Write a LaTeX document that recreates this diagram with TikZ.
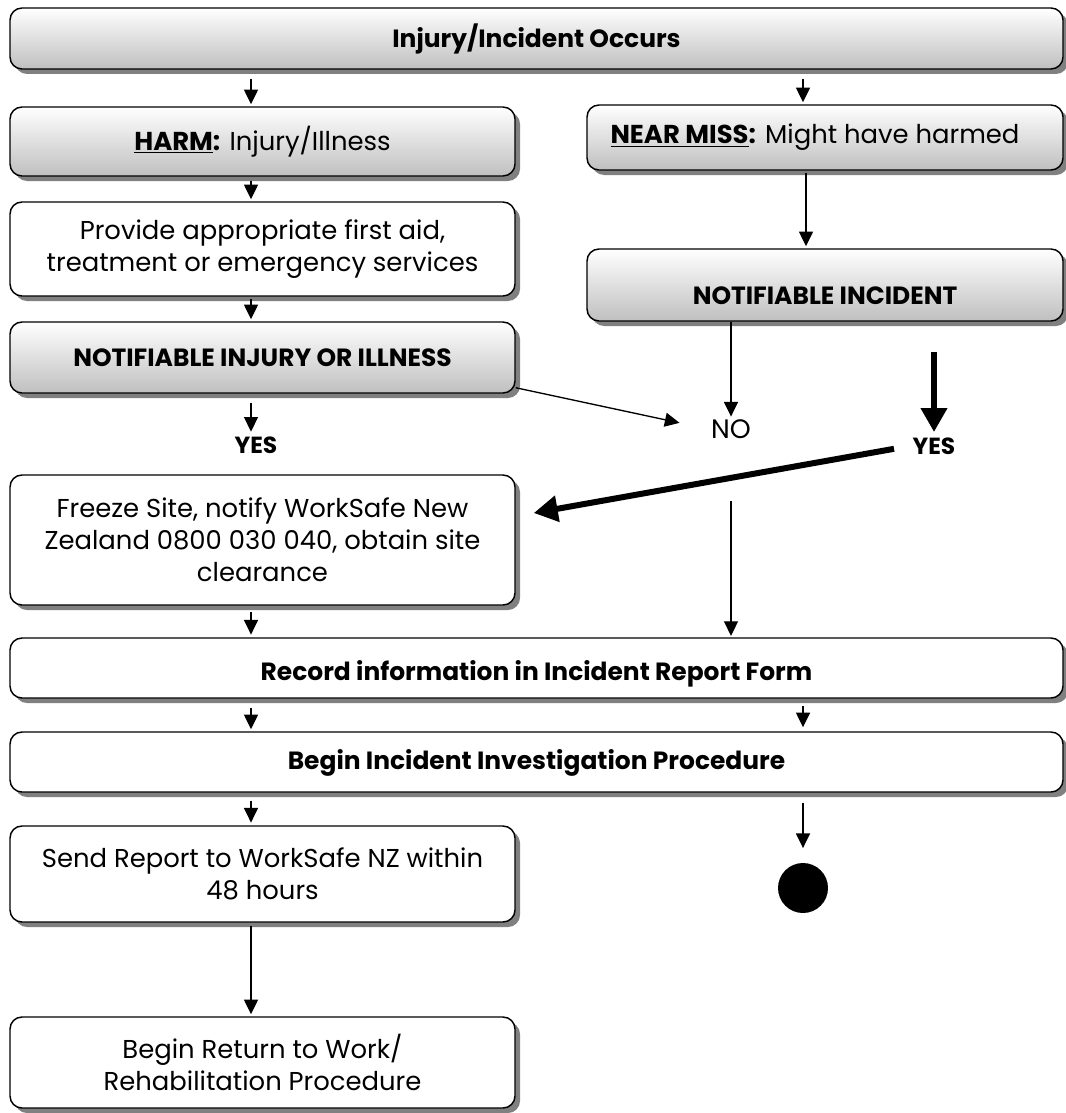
\documentclass[tikz,border=0pt]{standalone}
\usepackage{fontspec}
\setmainfont{Poppins}
\usetikzlibrary{arrows.meta,shadows,calc}
\newcommand{\regfont}{\fontsize{19.4}{24}\selectfont}
\newcommand{\boldfont}{\fontsize{18.7}{24}\selectfont\bfseries}
\tikzset{
  base/.style={draw=black, line width=1.1pt, rounded corners=9pt, align=center,
    font=\regfont, inner sep=0pt,
    drop shadow={shadow xshift=3.75pt, shadow yshift=-3.75pt, fill=black!50, opacity=1}},
  gbox/.style={base, top color=white, bottom color=black!25},
  wbox/.style={base, fill=white},
  arr/.style={line width=1pt, -{Triangle[length=11pt,width=10.5pt]}},
  bigarr/.style={line width=4.5pt, -{Triangle[length=18pt,width=19pt]}},
  lbl/.style={font=\regfont, inner sep=2pt},
}
\begin{document}
\begin{tikzpicture}[x=0.75pt,y=-0.75pt]
\useasboundingbox (0,0) rectangle (1065,1113);
% boxes
\node[gbox, font=\boldfont, minimum width=789.75pt, minimum height=45.75pt] (top) at (536.5,38.5) {Injury/Incident Occurs};
\node[gbox, minimum width=378.75pt, minimum height=51.75pt] (harm) at (262.5,141.5) {\underline{\bfseries HARM}\textbf{:} Injury/Illness};
\node[gbox, minimum width=357pt, minimum height=48.75pt] (near) at (825,137.5) {\underline{\bfseries NEAR MISS}\textbf{:} Might have harmed\hspace*{15pt}};
\node[wbox, minimum width=378.75pt, minimum height=70.5pt] (prov) at (262.5,249) {Provide appropriate first aid,\\treatment or emergency services};
\node[gbox, font=\boldfont, minimum width=357pt, minimum height=54pt] (ninc) at (825,285) {\rule{0pt}{29pt}NOTIFIABLE INCIDENT};
\node[gbox, font=\boldfont, minimum width=378.75pt, minimum height=53.25pt] (ninj) at (262.5,357.5) {NOTIFIABLE INJURY OR ILLNESS};
\node[wbox, minimum width=378.75pt, minimum height=97.5pt] (freeze) at (262.5,540) {Freeze Site, notify WorkSafe New\\Zealand 0800 030 040, obtain site\\clearance};
\node[wbox, font=\boldfont, minimum width=789.75pt, minimum height=45pt] (record) at (536.5,668) {\rule{0pt}{23pt}Record information in Incident Report Form};
\node[wbox, font=\boldfont, minimum width=789.75pt, minimum height=45pt] (begin) at (536.5,762) {\rule{0pt}{17pt}Begin Incident Investigation Procedure};
\node[wbox, minimum width=378.75pt, minimum height=72pt] (send) at (262.5,874) {Send Report to WorkSafe NZ within\\48 hours};
\node[wbox, minimum width=378.75pt, minimum height=68.25pt] (ret) at (262.5,1062.5) {Begin Return to Work/\\Rehabilitation Procedure};
% labels
\node[lbl, font=\fontsize{17.5}{24}\selectfont\bfseries] (yesL) at (256,445) {YES};
\node[lbl, font=\fontsize{20}{24}\selectfont] (no) at (731,429) {NO};
\node[lbl, font=\fontsize{17.5}{24}\selectfont\bfseries] (yesR) at (934,446) {YES};
\node[circle, fill=black, minimum size=37.5pt, inner sep=0pt] (endpt) at (803,888) {};
% column guides
\coordinate (cL) at (251,0);
\coordinate (cR) at (803,0);
\coordinate (cN) at (806,0);
% connectors
\draw[arr, shorten <=6.75pt, shorten >=1.5pt] (top.south -| cL) -- (harm.north -| cL);
\draw[arr, shorten <=6.75pt, shorten >=1.5pt] (top.south -| cR) -- (near.north -| cR);
\draw[arr, shorten <=3pt, shorten >=1.5pt] (harm.south -| cL) -- (prov.north -| cL);
\draw[arr, shorten <=1.5pt, shorten >=1.5pt] (prov.south -| cL) -- (ninj.north -| cL);
\draw[arr, shorten <=6.75pt, shorten >=1.5pt] (ninj.south -| cL) -- (yesL.north -| cL);
\draw[arr, shorten <=1.5pt, shorten >=1.5pt] (near.south -| cN) -- (ninc.north -| cN);
\draw[arr] (ninc.south -| no.north) -- (no.north);
\draw[arr, shorten >=22pt] ([yshift=4.5pt]ninj.south east) -- (no.west);
\draw[bigarr, shorten <=23pt, shorten >=2pt] (ninc.south -| yesR.north) -- (yesR.north);
\draw[bigarr, shorten <=12pt] (yesR.west) -- ($(freeze.east)+(18,-27)$);
\draw[arr, shorten <=45pt, shorten >=1pt] (no.south) -- (record.north -| no.south);
\draw[arr, shorten <=5pt, shorten >=2pt] (freeze.south -| cL) -- (record.north -| cL);
\draw[arr, shorten <=6.75pt, shorten >=1.5pt] (record.south -| cL) -- (begin.north -| cL);
\draw[arr, shorten <=5.25pt, shorten >=3pt] (record.south -| cR) -- (begin.north -| cR);
\draw[arr, shorten <=6pt, shorten >=2pt] (begin.south -| cL) -- (send.north -| cL);
\draw[arr, shorten <=7.5pt, shorten >=11pt] (begin.south -| cR) -- (endpt.north);
\draw[arr, shorten <=2.25pt, shorten >=1.5pt] (send.south -| cL) -- (ret.north -| cL);
\end{tikzpicture}
\end{document}
